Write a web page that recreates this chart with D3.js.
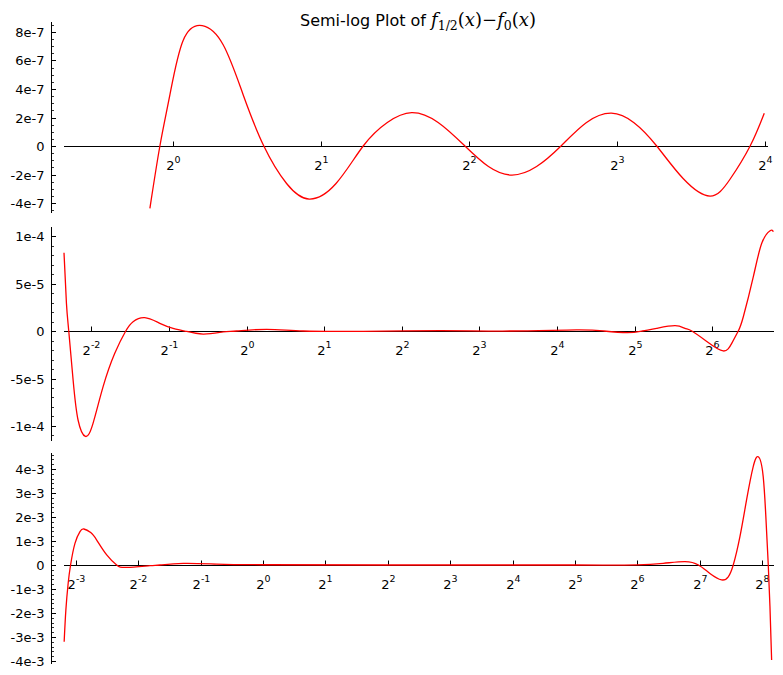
<!DOCTYPE html>
<html><head><meta charset="utf-8">
<script src="https://cdn.jsdelivr.net/npm/d3@7"></script>
<style>body{margin:0;background:#fff}svg{display:block}</style>
</head><body>
<svg id="c" width="783" height="675"></svg>
<script>
// ---------- data ----------
// Panel 1: x from ~0.9 to 16
const p1X = [0.897,0.940,0.985,1.048,1.146,1.264,1.388,1.529,1.701,1.891,2.144,2.435,2.726,3.055,3.458,3.920,4.377,4.887,5.483,6.147,6.916,7.781,8.651,9.621,10.90,12.35,13.55,14.90,15.92];
const p1Y = [-4.37e-7,0,3.58e-7,7.4e-7,8.44e-7,7.1e-7,3.6e-7,0,-2.63e-7,-3.72e-7,-2.63e-7,0,1.65e-7,2.34e-7,1.65e-7,0,-1.44e-7,-2.04e-7,-1.44e-7,0,1.63e-7,2.30e-7,1.63e-7,0,-2.3e-7,-3.51e-7,-2.35e-7,0,2.3e-7];
// Panel 2: x from ~0.2 to 110
const p2X = [0.196,0.2003,0.2045,0.2126,0.2222,0.2374,0.2540,0.2779,0.3084,0.3402,0.3632,0.4030,0.4611,0.5190,0.5765,0.6786,0.8112,0.9144,1.196,1.659,2.83,5.66,10.56,19.0,24.3,29.9,34.3,38.9,45.9,50.1,53.3,60.9,70.5,76.1,80.7,84.4,92.3,99.5,107.2,110.3];
const p2Y = [8.24e-5,2.92e-5,0,-5.16e-5,-9.37e-5,-1.11e-4,-9.72e-5,-5.86e-5,-2.35e-5,0,0.98e-5,1.40e-5,0.81e-5,0.28e-5,0,-0.32e-5,-0.1e-5,0,0.18e-5,0,-0.03e-5,0.04e-5,0,0.12e-5,0,-0.18e-5,0,0.28e-5,0.56e-5,0.28e-5,0,-1.1e-5,-2.1e-5,-1.3e-5,0,1.5e-5,5.72e-5,9.23e-5,1.056e-4,1.045e-4];
// Panel 3: x from ~0.11 to 284
const p3X = [0.1099,0.1120,0.1149,0.1180,0.1239,0.1310,0.1368,0.1476,0.1578,0.1763,0.1969,0.2200,0.2852,0.3186,0.4127,0.5979,1,4,32,64,85.3,108.6,126.2,143.3,163.1,175.7,185.7,200.0,215.3,231.8,245.2,259.0,268.7,274.0,279.2,284.4];
const p3Y = [-3.2e-3,-1.875e-3,-0.76e-3,0,0.9e-3,1.39e-3,1.5e-3,1.35e-3,1.04e-3,0.42e-3,0,-0.1e-3,-0.03e-3,0,0.07e-3,0.04e-3,0.01e-3,0,0,0.005e-3,0.07e-3,0.14e-3,0,-0.35e-3,-0.62e-3,-0.49e-3,0,1.18e-3,2.71e-3,4.1e-3,4.51e-3,3.68e-3,1.46e-3,0,-1.74e-3,-3.96e-3];

const p1YTicks = [-4e-7,-2e-7,0,2e-7,4e-7,6e-7,8e-7];
const p1YLabels = ["-4e-7","-2e-7","0","2e-7","4e-7","6e-7","8e-7"];
const p2YTicks = [-1e-4,-5e-5,0,5e-5,1e-4];
const p2YLabels = ["-1e-4","-5e-5","0","5e-5","1e-4"];
const p3YTicks = [-4e-3,-3e-3,-2e-3,-1e-3,0,1e-3,2e-3,3e-3,4e-3];
const p3YLabels = ["-4e-3","-3e-3","-2e-3","-1e-3","0","1e-3","2e-3","3e-3","4e-3"];
const p1XExp = [0,1,2,3,4];
const p2XExp = [-2,-1,0,1,2,3,4,5,6];
const p3XExp = [-3,-2,-1,0,1,2,3,4,5,6,7,8];

// ---------- layout ----------
const panels = [
  {x:p1X, y:p1Y, yt:p1YTicks, yl:p1YLabels, xe:p1XExp, xd:[0.6,16.2], xr:[64,768], yd:[-4.7e-7,8.7e-7], yr:[213,22], minor:5e-8},
  {x:p2X, y:p2Y, yt:p2YTicks, yl:p2YLabels, xe:p2XExp, xd:[0.196,111], xr:[64,774], yd:[-1.158e-4,1.095e-4], yr:[441,227], minor:1e-5},
  {x:p3X, y:p3Y, yt:p3YTicks, yl:p3YLabels, xe:p3XExp, xd:[0.1097,292], xr:[64,774], yd:[-4.125e-3,4.667e-3], yr:[664,453], minor:2e-4}
];
const svg = d3.select("#c");
const axisX = 51.5;
const font = "DejaVu Sans, sans-serif";

panels.forEach((p,i) => {
  const xs = d3.scaleLog().base(2).domain(p.xd).range(p.xr);
  const ys = d3.scaleLinear().domain(p.yd).range(p.yr);
  const g = svg.append("g");
  const y0 = Math.round(ys(0)) + 0.5;
  const cid = "clip"+i;
  svg.append("clipPath").attr("id",cid).append("rect")
    .attr("x",p.xr[0]-2).attr("y",p.yr[1]).attr("width",p.xr[1]-p.xr[0]+4).attr("height",p.yr[0]-p.yr[1]);
  // y axis line
  g.append("line").attr("x1",axisX).attr("x2",axisX).attr("y1",p.yr[1]).attr("y2",p.yr[0])
    .attr("stroke","#000").attr("stroke-width",1);
  // minor ticks
  const kmin = Math.ceil(p.yd[0]/p.minor - 1e-9), kmax = Math.floor(p.yd[1]/p.minor + 1e-9);
  d3.range(kmin,kmax+1).forEach(k => {
    const yy = Math.round(ys(k*p.minor)) + 0.5;
    g.append("line").attr("x1",axisX).attr("x2",axisX+2.5).attr("y1",yy).attr("y2",yy)
      .attr("stroke","#000").attr("stroke-width",0.8);
  });
  // major ticks and labels
  p.yt.forEach((t,j) => {
    const yy = Math.round(ys(t)) + 0.5;
    g.append("line").attr("x1",axisX).attr("x2",axisX+4.5).attr("y1",yy).attr("y2",yy)
      .attr("stroke","#000").attr("stroke-width",1);
    g.append("text").attr("x",axisX-7).attr("y",yy).attr("dy","0.36em")
      .attr("text-anchor","end").attr("font-family",font).attr("font-size",13)
      .attr("fill","#000").text(p.yl[j]);
  });
  // x axis (zero line)
  g.append("line").attr("x1",p.xr[0]).attr("x2",p.xr[1]).attr("y1",y0).attr("y2",y0)
    .attr("stroke","#000").attr("stroke-width",1);
  p.xe.forEach(e => {
    const xx = Math.round(xs(Math.pow(2,e))) + 0.5;
    g.append("line").attr("x1",xx).attr("x2",xx).attr("y1",y0).attr("y2",y0-5)
      .attr("stroke","#000").attr("stroke-width",1);
    const t = g.append("text").attr("x",xx).attr("y",y0+23).attr("text-anchor","middle")
      .attr("font-family",font).attr("font-size",13).attr("fill","#000");
    t.append("tspan").text("2");
    t.append("tspan").attr("dy",-7).attr("font-size",9.5).text(String(e));
  });
  // curve
  const pts = p.x.map((xv,k) => [xs(xv), ys(p.y[k])]);
  g.append("path").attr("clip-path","url(#"+cid+")")
    .attr("d", d3.line().curve(d3.curveNatural)(pts))
    .attr("fill","none").attr("stroke","#ff0000").attr("stroke-width",1.3);
});

// title
const title = svg.append("text").attr("x",300).attr("y",26)
  .attr("font-family",font).attr("font-size",16).attr("fill","#000");
title.append("tspan").text("Semi-log Plot of ");
const mf = "DejaVu Serif, serif";
title.append("tspan").attr("font-family",mf).attr("font-size",18).attr("font-style","italic").text("f");
title.append("tspan").attr("font-family",mf).attr("font-size",12.5).attr("dy",4).text("1/2");
title.append("tspan").attr("font-family",mf).attr("font-size",18).attr("dy",-4).text("(");
title.append("tspan").attr("font-family",mf).attr("font-size",18).attr("font-style","italic").text("x");
title.append("tspan").attr("font-family",mf).attr("font-size",18).text(")\u2212");
title.append("tspan").attr("font-family",mf).attr("font-size",18).attr("font-style","italic").text("f");
title.append("tspan").attr("font-family",mf).attr("font-size",12.5).attr("dy",4).text("0");
title.append("tspan").attr("font-family",mf).attr("font-size",18).attr("dy",-4).text("(");
title.append("tspan").attr("font-family",mf).attr("font-size",18).attr("font-style","italic").text("x");
title.append("tspan").attr("font-family",mf).attr("font-size",18).text(")");
</script>
</body></html>
